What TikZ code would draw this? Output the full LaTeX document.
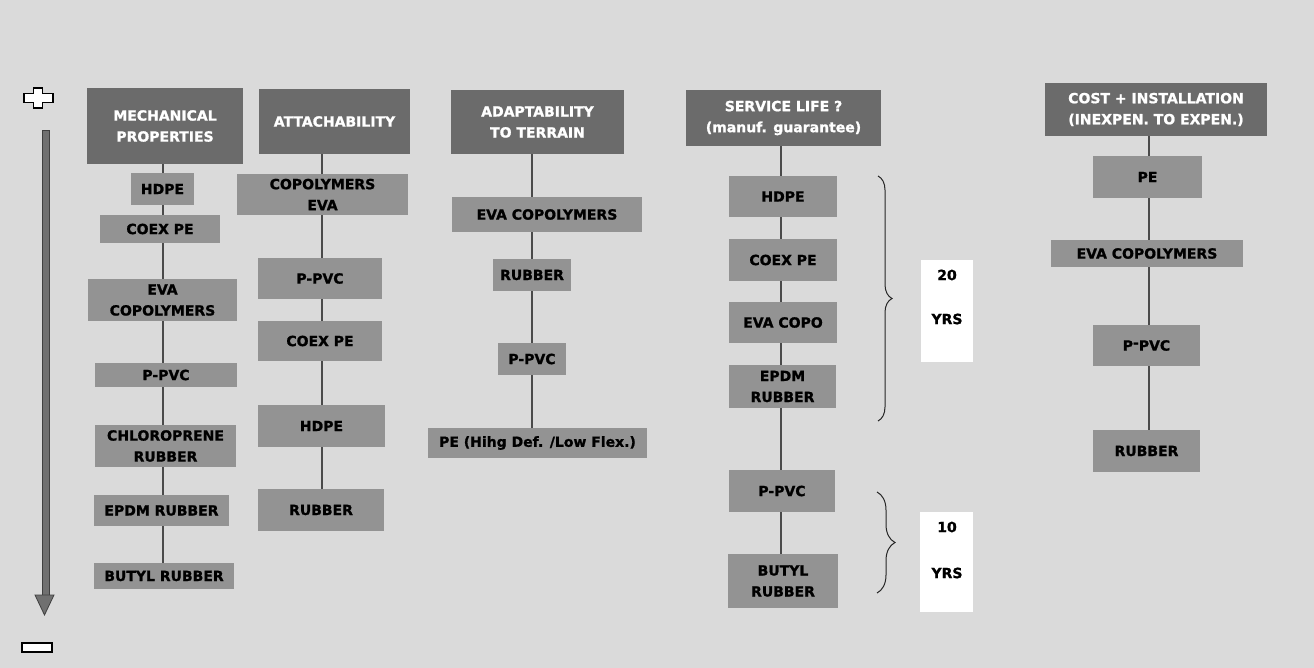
\documentclass[tikz,border=0pt]{standalone}
\usepackage{fontspec}
\setmainfont[BoldFeatures={FakeBold=1.2}]{DejaVu Sans}
\usetikzlibrary{decorations.pathreplacing}
\definecolor{bgcol}{HTML}{DADADA}
\definecolor{headcol}{HTML}{6B6B6B}
\definecolor{itemcol}{HTML}{939393}
\definecolor{linecol}{HTML}{4A4A4A}
\definecolor{arrowcol}{HTML}{707070}
% box with given centre, width and height
\newcommand\bx[7]{\node[#1, minimum width=#5pt, minimum height=#6pt] (#2) at (#3,#4) {#7};}
\begin{document}
\begin{tikzpicture}[x=1pt,y=-1pt,
  box/.style={rectangle, inner sep=0pt, align=center,
    font=\fontsize{14}{21}\selectfont\bfseries},
  head/.style={box, fill=headcol, text=white},
  item/.style={box, fill=itemcol, text=black},
  yrsbox/.style={rectangle, fill=white, inner sep=0pt},
  yrstext/.style={inner sep=0pt, font=\fontsize{14}{16}\selectfont\bfseries},
  link/.style={draw=linecol, line width=1.3pt},
  bracket/.style={draw=black!85, line width=1pt, decorate},
  sign/.style={fill=white, draw=black, line width=1.5pt, line join=miter}]
\fill[bgcol] (0,0) rectangle (1314,668);
\useasboundingbox (0,0) rectangle (1314,668);

% scale from "+" to "-"
\draw[sign] (33.5,88) -- (42.5,88) -- (42.5,93.5) -- (53,93.5) -- (53,102.5)
  -- (42.5,102.5) -- (42.5,108) -- (33.5,108) -- (33.5,102.5) -- (24,102.5)
  -- (24,93.5) -- (33.5,93.5) -- cycle;
\draw[sign] (22,643) rectangle (52,652);
\filldraw[fill=arrowcol, draw=black!75, line width=0.8pt] (42,130) rectangle (49,596);
\filldraw[fill=arrowcol, draw=black!75, line width=0.8pt] (35,595) -- (54,595) -- (44.5,615) -- cycle;

% mechanical properties
\bx{head}{h1}{165}{126}{156}{76}{MECHANICAL\\PROPERTIES}
\bx{item}{a1}{162.5}{189}{63}{32}{HDPE}
\bx{item}{b1}{160}{229}{120}{28}{COEX PE}
\bx{item}{c1}{162.5}{300}{149}{42}{EVA\\COPOLYMERS}
\bx{item}{d1}{166}{375}{142}{24}{P-PVC}
\bx{item}{e1}{165.5}{446}{141}{42}{CHLOROPRENE\\RUBBER}
\bx{item}{f1}{161.5}{510.5}{135}{31}{EPDM RUBBER}
\bx{item}{g1}{164}{576}{140}{26}{BUTYL RUBBER}
\coordinate (L1) at (163,0);
\foreach \u/\v in {h1/a1,a1/b1,b1/c1,c1/d1,d1/e1,e1/f1,f1/g1}
  \draw[link] (\u.south -| L1) -- (\v.north -| L1);

% attachability
\bx{head}{h2}{334.5}{121.5}{151}{65}{ATTACHABILITY}
\bx{item}{a2}{322.5}{194.5}{171}{41}{COPOLYMERS\\EVA}
\bx{item}{b2}{320}{278.5}{124}{41}{P-PVC}
\bx{item}{c2}{320}{341}{124}{40}{COEX PE}
\bx{item}{d2}{321.5}{426}{127}{42}{HDPE}
\bx{item}{e2}{321}{510}{126}{42}{RUBBER}
\coordinate (L2) at (322,0);
\foreach \u/\v in {h2/a2,a2/b2,b2/c2,c2/d2,d2/e2}
  \draw[link] (\u.south -| L2) -- (\v.north -| L2);

% adaptability to terrain
\bx{head}{h3}{537.5}{122}{173}{64}{ADAPTABILITY\\TO TERRAIN}
\bx{item}{a3}{547}{214.5}{190}{35}{EVA COPOLYMERS}
\bx{item}{b3}{532}{275}{78}{32}{RUBBER}
\bx{item}{c3}{532}{359}{68}{32}{P-PVC}
\bx{item}{d3}{537.5}{443}{219}{30}{PE (Hihg Def. /Low Flex.)}
\coordinate (L3) at (532,0);
\foreach \u/\v in {h3/a3,a3/b3,b3/c3,c3/d3}
  \draw[link] (\u.south -| L3) -- (\v.north -| L3);

% service life
\bx{head}{h4}{783.5}{118}{195}{56}{SERVICE LIFE ?\\(manuf. guarantee)}
\bx{item}{a4}{783}{196.5}{108}{41}{HDPE}
\bx{item}{b4}{783}{260}{108}{42}{COEX PE}
\bx{item}{c4}{783}{322.5}{108}{41}{EVA COPO}
\bx{item}{d4}{782.5}{386.5}{107}{43}{EPDM\\RUBBER}
\bx{item}{e4}{782}{491}{106}{42}{P-PVC}
\bx{item}{f4}{783}{581}{110}{54}{BUTYL\\RUBBER}
\coordinate (L4) at (781,0);
\foreach \u/\v in {h4/a4,a4/b4,b4/c4,c4/d4,d4/e4,e4/f4}
  \draw[link] (\u.south -| L4) -- (\v.north -| L4);

% guarantee periods
\coordinate (t1) at (878,176);
\coordinate (u1) at (878,421);
\coordinate (t2) at (877,492);
\coordinate (u2) at (877,593);
\draw[bracket, decoration={brace, amplitude=14pt}] (t1) -- (u1);
\draw[bracket, decoration={brace, amplitude=18pt}] (t2) -- (u2);
\node[yrsbox, minimum width=52pt, minimum height=102pt] (w1) at (947,311) {};
\node[yrstext] (w1a) at (947,275) {20};
\node[yrstext] (w1b) at (947,319) {YRS};
\node[yrsbox, minimum width=53pt, minimum height=100pt] (w2) at (946.5,562) {};
\node[yrstext] (w2a) at (947,527) {10};
\node[yrstext] (w2b) at (947,573) {YRS};

% cost and installation
\bx{head}{h5}{1156}{109.5}{222}{53}{COST + INSTALLATION\\(INEXPEN. TO EXPEN.)}
\bx{item}{a5}{1147.5}{177}{109}{42}{PE}
\bx{item}{b5}{1147}{253.5}{192}{27}{EVA COPOLYMERS}
\bx{item}{c5}{1146.5}{345.5}{107}{41}{P\raisebox{3pt}{-}PVC}
\bx{item}{d5}{1146.5}{451}{107}{42}{RUBBER}
\coordinate (L5) at (1149,0);
\foreach \u/\v in {h5/a5,a5/b5,b5/c5,c5/d5}
  \draw[link] (\u.south -| L5) -- (\v.north -| L5);
\end{tikzpicture}
\end{document}
